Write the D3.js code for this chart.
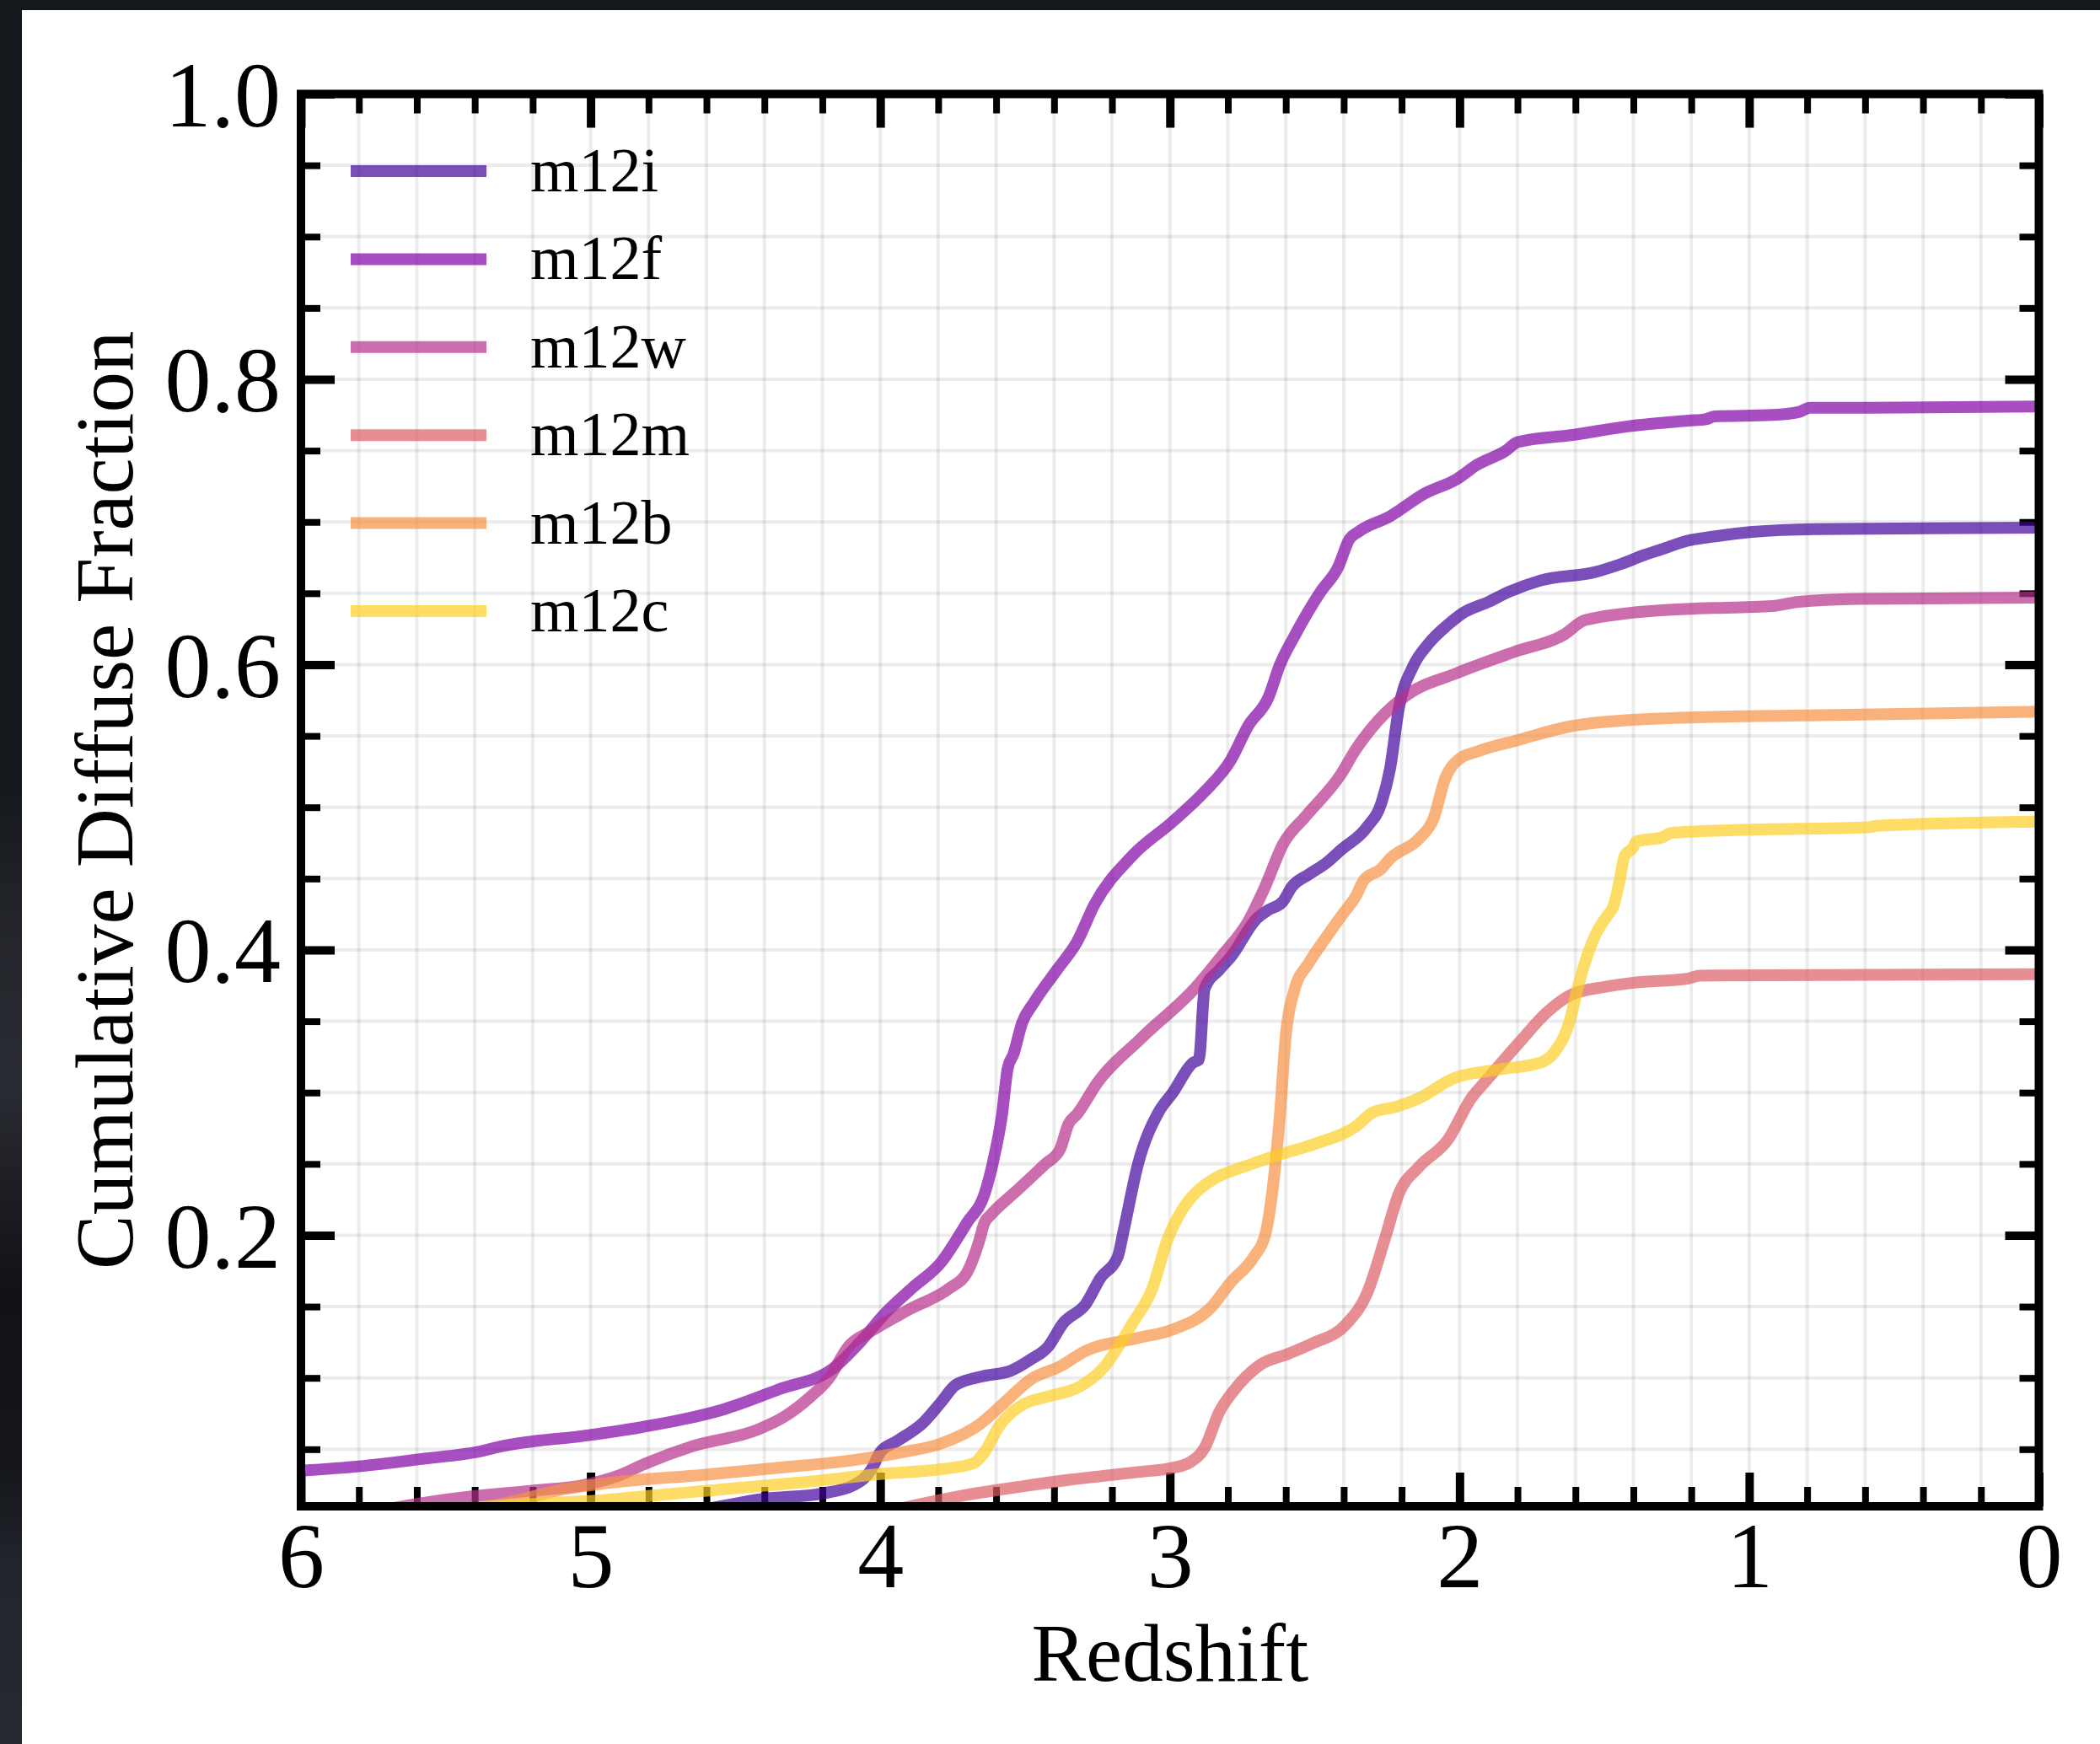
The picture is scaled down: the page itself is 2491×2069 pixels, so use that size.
<!DOCTYPE html>
<html><head><meta charset="utf-8">
<script src="https://cdn.jsdelivr.net/npm/d3@7"></script>
<style>html,body{margin:0;padding:0;background:#fff;overflow:hidden;} svg{display:block;}</style>
</head><body>
<script>
// ---------------- data ----------------
const seriesNames = ["m12i", "m12f", "m12w", "m12m", "m12b", "m12c"];
const colorPositions = [0.1, 0.26, 0.42, 0.58, 0.74, 0.9];

// [redshift, cumulative diffuse fraction]
const m12i = [[4.75,0.002],[4.55,0.010],[4.41,0.015],[4.20,0.019],[4.09,0.025],[4.03,0.036],[4.00,0.048],[3.94,0.056],[3.85,0.069],[3.79,0.083],[3.74,0.095],[3.65,0.101],[3.55,0.105],[3.48,0.113],[3.42,0.122],[3.37,0.138],[3.29,0.152],[3.24,0.170],[3.18,0.185],[3.16,0.203],[3.11,0.250],[3.04,0.286],[2.99,0.300],[2.92,0.321],[2.90,0.323],[2.88,0.373],[2.83,0.386],[2.79,0.395],[2.70,0.422],[2.66,0.428],[2.61,0.434],[2.58,0.444],[2.52,0.453],[2.46,0.461],[2.41,0.470],[2.32,0.486],[2.27,0.503],[2.24,0.527],[2.21,0.569],[2.16,0.599],[2.11,0.614],[2.04,0.628],[1.99,0.636],[1.90,0.644],[1.83,0.651],[1.72,0.659],[1.53,0.665],[1.45,0.670],[1.36,0.677],[1.30,0.681],[1.21,0.687],[1.15,0.689],[0.99,0.693],[0.77,0.695],[0.0,0.696]];
const m12f = [[6.0,0.035],[5.8,0.038],[5.59,0.043],[5.37,0.049],[5.32,0.0515],[5.0,0.060],[4.81,0.066],[4.68,0.071],[4.54,0.078],[4.35,0.092],[4.16,0.107],[4.07,0.125],[3.98,0.146],[3.89,0.163],[3.79,0.181],[3.70,0.209],[3.64,0.229],[3.61,0.252],[3.58,0.284],[3.56,0.317],[3.54,0.327],[3.51,0.349],[3.47,0.363],[3.39,0.386],[3.32,0.406],[3.26,0.432],[3.13,0.466],[2.99,0.490],[2.88,0.511],[2.79,0.533],[2.73,0.557],[2.66,0.577],[2.62,0.600],[2.57,0.620],[2.48,0.651],[2.42,0.668],[2.38,0.688],[2.35,0.693],[2.24,0.704],[2.12,0.720],[2.01,0.730],[1.94,0.740],[1.84,0.750],[1.80,0.756],[1.61,0.761],[1.42,0.767],[1.21,0.771],[1.15,0.772],[1.12,0.774],[0.92,0.775],[0.83,0.777],[0.79,0.780],[0.62,0.780],[0.0,0.781]];
const m12w = [[5.8,0.004],[5.59,0.012],[5.41,0.017],[5.20,0.021],[5.02,0.025],[4.91,0.031],[4.81,0.040],[4.65,0.052],[4.42,0.064],[4.33,0.073],[4.24,0.087],[4.18,0.099],[4.11,0.122],[4.03,0.133],[3.90,0.148],[3.76,0.163],[3.70,0.174],[3.66,0.195],[3.64,0.209],[3.62,0.214],[3.53,0.231],[3.43,0.250],[3.38,0.260],[3.35,0.278],[3.32,0.285],[3.25,0.307],[3.10,0.338],[2.91,0.374],[2.82,0.396],[2.73,0.420],[2.67,0.445],[2.61,0.474],[2.53,0.494],[2.41,0.523],[2.36,0.540],[2.28,0.561],[2.18,0.579],[2.01,0.594],[1.81,0.609],[1.64,0.621],[1.57,0.631],[1.55,0.632],[1.42,0.636],[1.22,0.639],[0.92,0.641],[0.83,0.644],[0.62,0.646],[0.0,0.647]];
const m12m = [[4.0,0.005],[3.85,0.012],[3.70,0.018],[3.51,0.024],[3.33,0.029],[3.11,0.034],[2.99,0.037],[2.93,0.041],[2.88,0.051],[2.83,0.076],[2.78,0.091],[2.69,0.109],[2.59,0.117],[2.51,0.124],[2.39,0.138],[2.32,0.159],[2.26,0.196],[2.21,0.229],[2.14,0.248],[2.04,0.267],[1.96,0.296],[1.91,0.308],[1.79,0.336],[1.70,0.356],[1.61,0.369],[1.50,0.374],[1.40,0.377],[1.21,0.380],[1.17,0.382],[0.0,0.383]];
const m12b = [[5.5,0.006],[5.30,0.012],[5.09,0.022],[4.91,0.027],[4.61,0.032],[4.35,0.037],[4.07,0.043],[3.92,0.048],[3.79,0.054],[3.66,0.067],[3.57,0.083],[3.48,0.099],[3.38,0.108],[3.29,0.119],[3.11,0.128],[2.99,0.134],[2.86,0.149],[2.79,0.167],[2.71,0.185],[2.67,0.201],[2.65,0.225],[2.62,0.285],[2.60,0.340],[2.57,0.372],[2.52,0.391],[2.46,0.409],[2.40,0.426],[2.36,0.437],[2.33,0.449],[2.27,0.457],[2.24,0.464],[2.14,0.478],[2.09,0.492],[2.05,0.520],[2.00,0.534],[1.94,0.539],[1.80,0.547],[1.61,0.557],[1.33,0.562],[0.62,0.565],[0.0,0.567]];
const m12c = [[5.4,0.008],[5.17,0.012],[4.98,0.014],[4.76,0.018],[4.54,0.022],[4.26,0.027],[3.98,0.033],[3.79,0.036],[3.68,0.040],[3.64,0.048],[3.59,0.066],[3.51,0.081],[3.42,0.087],[3.31,0.094],[3.23,0.107],[3.13,0.138],[3.06,0.163],[3.01,0.196],[2.96,0.217],[2.91,0.230],[2.86,0.238],[2.73,0.249],[2.63,0.256],[2.50,0.264],[2.36,0.276],[2.30,0.286],[2.22,0.290],[2.14,0.296],[2.02,0.310],[1.87,0.316],[1.72,0.321],[1.67,0.329],[1.62,0.350],[1.59,0.375],[1.53,0.411],[1.49,0.424],[1.47,0.430],[1.45,0.446],[1.43,0.466],[1.40,0.472],[1.39,0.476],[1.30,0.479],[1.27,0.482],[1.06,0.484],[0.59,0.486],[0.56,0.487],[0.0,0.490]];
const seriesData = [m12i, m12f, m12w, m12m, m12b, m12c];

const xMajorTicks = [6, 5, 4, 3, 2, 1, 0];
const xTickLabels = ["6", "5", "4", "3", "2", "1", "0"];
const yMajorTicks = [0.2, 0.4, 0.6, 0.8, 1.0];
const yTickLabels = ["0.2", "0.4", "0.6", "0.8", "1.0"];
const xLabel = "Redshift";
const yLabel = "Cumulative Diffuse Fraction";

// ---------------- layout ----------------
const W = 2491, H = 2069;
const L = 357, R = 2418.5, T = 111.5, B = 1787;
const FONT = "'Liberation Serif','Times New Roman',Times,serif";
const LW = 14;

const x = d3.scaleLinear().domain([6, 0]).range([L, R]);
const y = d3.scaleLinear().domain([0.01, 1.0]).range([B, T]);
const xMinor = d3.range(0, 31).map(i => +(i * 0.2).toFixed(2)).filter(v => Math.abs(v - Math.round(v)) > 1e-6);
const yMinor = d3.range(1, 20).map(i => +(i * 0.05).toFixed(2)).filter(v => Math.abs(v * 5 - Math.round(v * 5)) > 1e-6);
const xGrid = d3.range(1, 30).map(i => +(i * 0.2).toFixed(2));
const yGrid = d3.range(1, 20).map(i => +(i * 0.05).toFixed(2));

const svg = d3.select("body").append("svg").attr("width", W).attr("height", H);
const defs = svg.append("defs");
const grad = defs.append("linearGradient").attr("id", "leftband").attr("x1", 0).attr("y1", 0).attr("x2", 0).attr("y2", 1);
[[0, "#14171b"], [0.45, "#15181c"], [0.53, "#23252b"], [0.62, "#2a2c33"], [0.74, "#101216"], [0.84, "#14161a"], [0.9, "#22252c"], [1, "#262932"]]
  .forEach(([o, c]) => grad.append("stop").attr("offset", o).attr("stop-color", c));
defs.append("clipPath").attr("id", "plotclip").append("rect")
  .attr("x", L).attr("y", T).attr("width", R - L).attr("height", B - T);

// background frame
svg.append("rect").attr("width", W).attr("height", H).attr("fill", "#fff");
svg.append("rect").attr("x", 0).attr("y", 0).attr("width", W).attr("height", 12).attr("fill", "#14171b");
svg.append("rect").attr("x", 0).attr("y", 0).attr("width", 26).attr("height", H).attr("fill", "url(#leftband)");

// grid
const grid = svg.append("g").attr("stroke", "#000").attr("stroke-opacity", 0.075).attr("stroke-width", 4);
grid.selectAll(".gx").data(xGrid).join("line")
  .attr("x1", d => x(d)).attr("x2", d => x(d)).attr("y1", T).attr("y2", B);
grid.selectAll(".gy").data(yGrid).join("line")
  .attr("x1", L).attr("x2", R).attr("y1", d => y(d)).attr("y2", d => y(d));

// axes (ticks inward on all four sides)
function styleAxis(g, width) {
  g.select(".domain").remove();
  g.selectAll(".tick line").attr("stroke", "#000").attr("stroke-width", width);
}
const MAJ = 40, MIN = 23;
svg.append("g").attr("transform", `translate(0,${B})`)
  .call(d3.axisBottom(x).tickValues(xMinor).tickSize(-MIN).tickFormat(""))
  .call(g => styleAxis(g, 8));
svg.append("g").attr("transform", `translate(0,${T})`)
  .call(d3.axisTop(x).tickValues(xMinor).tickSize(-MIN).tickFormat(""))
  .call(g => styleAxis(g, 8));
svg.append("g").attr("transform", `translate(${L},0)`)
  .call(d3.axisLeft(y).tickValues(yMinor).tickSize(-MIN).tickFormat(""))
  .call(g => styleAxis(g, 8));
svg.append("g").attr("transform", `translate(${R},0)`)
  .call(d3.axisRight(y).tickValues(yMinor).tickSize(-MIN).tickFormat(""))
  .call(g => styleAxis(g, 8));

const xAxisB = svg.append("g").attr("transform", `translate(0,${B})`)
  .call(d3.axisBottom(x).tickValues(xMajorTicks).tickSize(-MAJ).tickPadding(0)
    .tickFormat((d, i) => xTickLabels[i]))
  .call(g => styleAxis(g, 10));
xAxisB.selectAll(".tick text").attr("y", 96).attr("dy", null)
  .attr("font-family", FONT).attr("font-size", 110).attr("fill", "#000");
svg.append("g").attr("transform", `translate(0,${T})`)
  .call(d3.axisTop(x).tickValues(xMajorTicks).tickSize(-MAJ).tickFormat(""))
  .call(g => styleAxis(g, 10));
const yAxisL = svg.append("g").attr("transform", `translate(${L},0)`)
  .call(d3.axisLeft(y).tickValues(yMajorTicks).tickSize(-MAJ).tickPadding(24)
    .tickFormat((d, i) => yTickLabels[i]))
  .call(g => styleAxis(g, 10));
yAxisL.selectAll(".tick text").attr("dy", "0.345em")
  .attr("font-family", FONT).attr("font-size", 110).attr("fill", "#000");
svg.append("g").attr("transform", `translate(${R},0)`)
  .call(d3.axisRight(y).tickValues(yMajorTicks).tickSize(-MAJ).tickFormat(""))
  .call(g => styleAxis(g, 10));

// lines
const line = d3.line().x(d => x(d[0])).y(d => y(d[1])).curve(d3.curveMonotoneX);
const lines = svg.append("g").attr("clip-path", "url(#plotclip)");
seriesData.forEach((data, i) => {
  lines.append("path").datum(data)
    .attr("d", line)
    .attr("fill", "none")
    .attr("stroke", d3.interpolatePlasma(colorPositions[i]))
    .attr("stroke-opacity", 0.7)
    .attr("stroke-width", LW)
    .attr("stroke-linejoin", "round")
    .attr("stroke-linecap", "butt");
});

// spines
svg.append("rect").attr("x", L).attr("y", T).attr("width", R - L).attr("height", B - T)
  .attr("fill", "none").attr("stroke", "#000").attr("stroke-width", 10);

// legend
const leg = svg.append("g");
seriesNames.forEach((name, i) => {
  const cy = 203 + i * 104.4;
  leg.append("line").attr("x1", 416).attr("x2", 577).attr("y1", cy).attr("y2", cy)
    .attr("stroke", d3.interpolatePlasma(colorPositions[i])).attr("stroke-opacity", 0.7)
    .attr("stroke-width", LW);
  leg.append("text").attr("x", 629).attr("y", cy + 24)
    .attr("font-family", FONT).attr("font-size", 74).attr("fill", "#000").text(name);
});

// axis labels
svg.append("text").attr("x", (L + R) / 2).attr("y", 1994).attr("text-anchor", "middle")
  .attr("font-family", FONT).attr("font-size", 97).attr("fill", "#000").text(xLabel);
svg.append("text").attr("transform", `translate(157,${(T + B) / 2}) rotate(-90)`)
  .attr("text-anchor", "middle")
  .attr("font-family", FONT).attr("font-size", 97).attr("fill", "#000").text(yLabel);
</script>
</body></html>
